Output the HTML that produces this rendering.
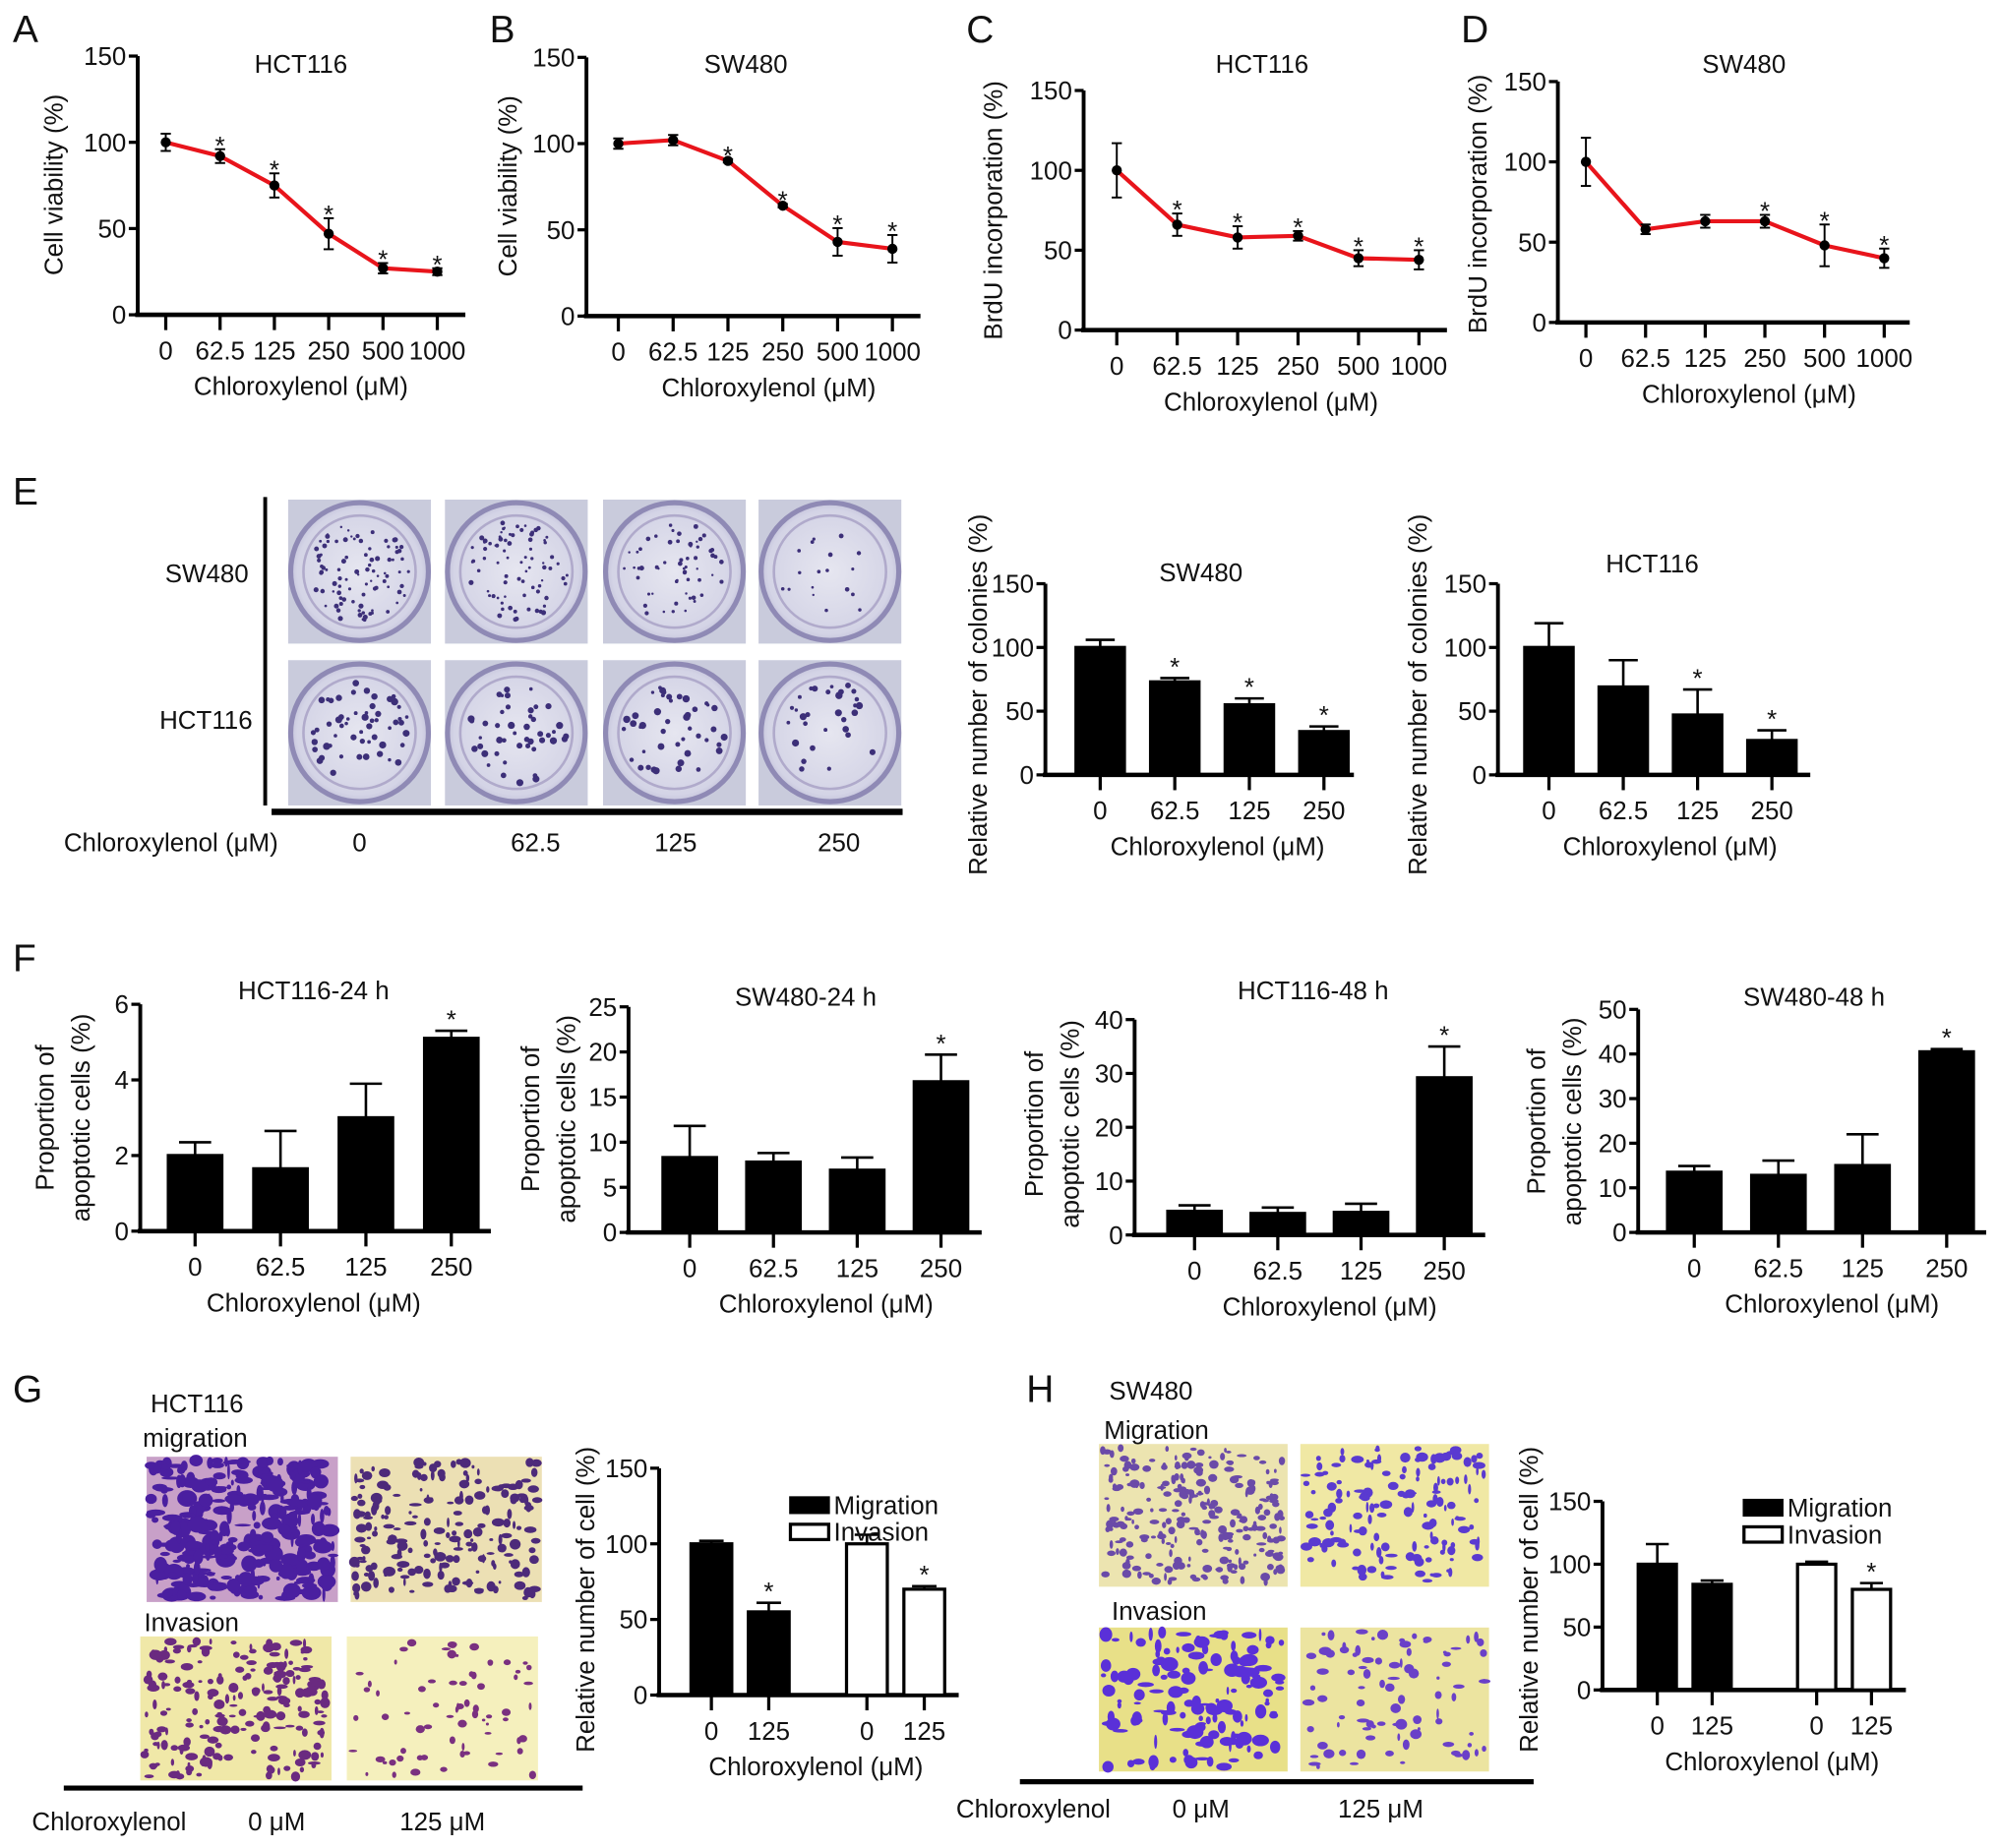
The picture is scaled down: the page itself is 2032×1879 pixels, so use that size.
<!DOCTYPE html>
<html><head><meta charset="utf-8">
<style>
html,body{margin:0;padding:0;background:#fff;}
svg{display:block;}
text{font-family:"Liberation Sans",sans-serif;fill:#111;}
</style></head>
<body>
<svg id="fig" width="2032" height="1879" viewBox="0 0 1568 1450" xmlns="http://www.w3.org/2000/svg">
<defs>
<radialGradient id="plate" cx="50%" cy="50%" r="60%"><stop offset="0%" stop-color="#e6e6f0"/><stop offset="75%" stop-color="#d4d4e6"/><stop offset="100%" stop-color="#a9a6c8"/></radialGradient>
</defs>
</svg>
<script>
// ---------- data ----------
const doseLabels6 = ["0","62.5","125","250","500","1000"];
const doseLabels4 = ["0","62.5","125","250"];
const twoLabels = ["0","125","0","125"];
const aValues = [100,92,75,47,27,25];
const aErrors = [5,4,7,9,3,2];
const aStars = [0,1,1,1,1,1];
const bValues = [100,102,90,64,43,39];
const bErrors = [3,3,1,1,8,8];
const bStars = [0,0,1,1,1,1];
const cValues = [100,66,58,59,45,44];
const cErrors = [17,7,7,3,5,6];
const cStars = [0,1,1,1,1,1];
const dValues = [100,58,63,63,48,40];
const dErrors = [15,3,4,4,13,6];
const dStars = [0,0,0,1,1,1];
const eSwValues = [100,73,55,34];
const eSwErrors = [6,3,5,4];
const eSwStars = [0,1,1,1];
const eHcValues = [100,69,47,27];
const eHcErrors = [19,21,20,8];
const eHcStars = [0,0,1,1];
const f1Values = [2.0,1.65,3.0,5.1];
const f1Errors = [0.35,1.0,0.9,0.2];
const f1Stars = [0,0,0,1];
const f2Values = [8.3,7.8,6.9,16.7];
const f2Errors = [3.5,1.0,1.4,3.0];
const f2Stars = [0,0,0,1];
const f3Values = [4.4,4.0,4.2,29.2];
const f3Errors = [1.1,1.1,1.6,5.8];
const f3Stars = [0,0,0,1];
const f4Values = [13.5,12.8,15.0,40.5];
const f4Errors = [1.4,3.3,7.0,0.6];
const f4Stars = [0,0,0,1];
const gValues = [100,55,100,70];
const gErrors = [2,6,6,2];
const gStars = [0,1,0,1];
const gFill = ["#000","#000","#fff","#fff"];
const hValues = [100,84,100,80];
const hErrors = [16,3,2,5];
const hStars = [0,0,0,1];

// ---------- helpers ----------
const NS = "http://www.w3.org/2000/svg";
const svg = document.getElementById('fig');
function mk(tag, attrs, parent, name, inter){
  const e = document.createElementNS(NS, tag);
  for (const k in attrs) e.setAttribute(k, attrs[k]);
  
  
  (parent || svg).appendChild(e);
  return e;
}
function txt(x,y,s,size,anchor,parent,name,rot){
  const t = document.createElementNS(NS,'text');
  t.setAttribute('x',x); t.setAttribute('y',y);
  t.setAttribute('font-size',size); t.setAttribute('text-anchor',anchor||'middle');
  if (rot) t.setAttribute('transform','rotate(-90 '+x+' '+y+')');
  t.textContent = s;
  
  
  (parent||svg).appendChild(t);
  return t;
}
function group(name){
  const g = document.createElementNS(NS,'g');
  
  
  svg.appendChild(g);
  return g;
}

function axes(g, c, n){
  const yS = v => c.y0 - (v / c.ymax) * (c.y0 - c.yTop);
  const xS = i => c.x0 + i * c.step;
  mk('line',{x1:c.ax,y1:c.yTop,x2:c.ax,y2:c.y0+1,stroke:'#000','stroke-width':3},g,'y-axis-line');
  for (let v = 0; v <= c.ymax + 1e-9; v += c.tick){
    mk('line',{x1:c.ax-7,y1:yS(v),x2:c.ax,y2:yS(v),stroke:'#000','stroke-width':2.5},g,'y-tick');
    txt(c.ax-9, yS(v)+7, String(Math.round(v*10)/10), 20, 'end', g, 'y-tick-label');
  }
  mk('line',{x1:c.ax-2,y1:c.y0,x2:c.xEnd,y2:c.y0,stroke:'#000','stroke-width':3.5},g,'x-axis-line');
  for (let i=0;i<n;i++){
    mk('line',{x1:xS(i),y1:c.y0,x2:xS(i),y2:c.y0+12,stroke:'#000','stroke-width':2.5},g,'x-tick');
    txt(xS(i), c.y0+35, c.labels[i], 20, 'middle', g, 'x-tick-label');
  }
  txt(c.xTitleX, c.y0+63, 'Chloroxylenol (\u03bcM)', 20, 'middle', g, 'x-axis-title');
  if (c.title) txt(c.titleX, c.titleY, c.title, 20, 'middle', g, 'chart-title');
  if (c.ylab2){
    txt(c.ylabX-14, c.ylabY, c.ylab, 20, 'middle', g, 'y-axis-title', true);
    txt(c.ylabX+14, c.ylabY, c.ylab2, 20, 'middle', g, 'y-axis-title-line2', true);
  } else txt(c.ylabX, c.ylabY, c.ylab, 20, 'middle', g, 'y-axis-title', true);
  return {yS, xS};
}

function lineChart(name, c, vals, errs, stars){
  const g = group(name);
  const {yS, xS} = axes(g, c, vals.length);
  const pts = vals.map((v,i)=> xS(i)+','+yS(v)).join(' ');
  mk('polyline',{points:pts,fill:'none',stroke:'#e8141b','stroke-width':3.2},g,'series-line');
  vals.forEach((v,i)=>{
    const x = xS(i), t = yS(v+errs[i]), b = yS(v-errs[i]);
    mk('line',{x1:x,y1:t,x2:x,y2:b,stroke:'#000','stroke-width':1.5},g,'error-bar');
    mk('line',{x1:x-4,y1:t,x2:x+4,y2:t,stroke:'#000','stroke-width':1.5},g,'error-cap');
    mk('line',{x1:x-4,y1:b,x2:x+4,y2:b,stroke:'#000','stroke-width':1.5},g,'error-cap');
    mk('circle',{cx:x,cy:yS(v),r:4,fill:'#000'},g,'data-point');
    if (stars[i]) txt(x, t+4, '*', 20, 'middle', g, 'significance-star');
  });
}

function barChart(name, c, vals, errs, stars, fills){
  const g = group(name);
  const {yS, xS} = axes(g, c, vals.length);
  vals.forEach((v,i)=>{
    const x = xS(i), w = c.bw;
    const f = fills ? fills[i] : '#000';
    const t = yS(v+errs[i]);
    mk('line',{x1:x,y1:t,x2:x,y2:yS(v),stroke:'#000','stroke-width':2},g,'error-bar');
    mk('line',{x1:x-w*0.3,y1:t,x2:x+w*0.3,y2:t,stroke:'#000','stroke-width':2},g,'error-cap');
    mk('rect',{x:x-w/2,y:yS(v),width:w,height:c.y0-yS(v),fill:f,stroke:'#000','stroke-width':2.5},g,'bar');
    if (stars[i]) txt(x, t-2, '*', 20, 'middle', g, 'significance-star');
  });
  return g;
}

[['A',10,33],['B',384,33],['C',758,33],['D',1146,33],['E',10,396],['F',10,762],['G',10,1100],['H',805,1100]].forEach(p=>{
  txt(p[1],p[2],p[0],30,'start',svg,'panel-label-'+p[0].toLowerCase());
});

lineChart('panel-a-chart',{ax:108,yTop:44,y0:247,ymax:150,tick:50,x0:130,step:42.6,xEnd:365,labels:doseLabels6,xTitleX:236,title:'HCT116',titleX:236,titleY:57,ylab:'Cell viability (%)',ylabX:49,ylabY:145},aValues,aErrors,aStars);
lineChart('panel-b-chart',{ax:460,yTop:45,y0:248,ymax:150,tick:50,x0:485,step:43,xEnd:722,labels:doseLabels6,xTitleX:603,title:'SW480',titleX:585,titleY:57,ylab:'Cell viability (%)',ylabX:405,ylabY:146},bValues,bErrors,bStars);
lineChart('panel-c-chart',{ax:850,yTop:71,y0:259,ymax:150,tick:50,x0:876,step:47.4,xEnd:1135,labels:doseLabels6,xTitleX:997,title:'HCT116',titleX:990,titleY:57,ylab:'BrdU incorporation (%)',ylabX:786,ylabY:165},cValues,cErrors,cStars);
lineChart('panel-d-chart',{ax:1222,yTop:64,y0:253,ymax:150,tick:50,x0:1244,step:46.8,xEnd:1498,labels:doseLabels6,xTitleX:1372,title:'SW480',titleX:1368,titleY:57,ylab:'BrdU incorporation (%)',ylabX:1166,ylabY:160},dValues,dErrors,dStars);

let seed = 7;
function rnd(){ seed = (seed*16807) % 2147483647; return (seed-1)/2147483646; }
function platePhoto(x,y,w,h,dots,big,name){
  const g = group(name);
  mk('rect',{x:x,y:y,width:w,height:h,fill:'#c9cbdc'},g,'photo-bg');
  mk('circle',{cx:x+w/2,cy:y+h/2,r:Math.min(w,h)/2-2,fill:'url(#plate)',stroke:'#8f8ab5','stroke-width':4},g,'plate');
  mk('circle',{cx:x+w/2,cy:y+h/2,r:Math.min(w,h)/2-12,fill:'none',stroke:'#b0aacb','stroke-width':2},g,'plate-rim');
  for (let i=0;i<dots;i++){
    const a=rnd()*6.283, r=Math.sqrt(rnd())*(Math.min(w,h)/2-16);
    mk('circle',{cx:x+w/2+r*Math.cos(a),cy:y+h/2+r*Math.sin(a),r:(big?1.3:0.9)+rnd()*(big?1.6:1.1),fill:'#3c2f78'},g,'colony');
  }
}
const cols=[226,349,473,595], rowsY=[392,518];
const swDots=[90,80,60,18], hcDots=[55,45,45,30];
cols.forEach((x,i)=>{ platePhoto(x,rowsY[0],112,113,swDots[i],false,'sw480-colony-photo'); platePhoto(x,rowsY[1],112,114,hcDots[i],true,'hct116-colony-photo'); });
const eg = group('panel-e-photo-labels');
mk('line',{x1:208,y1:390,x2:208,y2:632,stroke:'#000','stroke-width':3},eg,'row-bracket');
mk('line',{x1:213,y1:637,x2:708,y2:637,stroke:'#000','stroke-width':5},eg,'dose-bar');
txt(195,457,'SW480',20,'end',eg,'row-label-sw480');
txt(198,572,'HCT116',20,'end',eg,'row-label-hct116');
txt(50,668,'Chloroxylenol (\u03bcM)',20,'start',eg,'dose-title');
[['0',282],['62.5',420],['125',530],['250',658]].forEach(p=>txt(p[1],668,p[0],20,'middle',eg,'dose-label'));

function wellPhoto(x,y,w,h,bg,color,n,size,name){
  const g = group(name);
  mk('rect',{x:x,y:y,width:w,height:h,fill:bg},g,'photo-bg');
  for (let i=0;i<n;i++){
    mk('ellipse',{cx:x+3+rnd()*(w-6),cy:y+3+rnd()*(h-6),rx:1+rnd()*size,ry:1+rnd()*size*0.8,fill:color},g,'cell');
  }
}
wellPhoto(115,1143,150,114,'#c8a0c8','#4a1fa0',320,7,'hct116-migration-0');
wellPhoto(275,1143,150,114,'#ece0b4','#4d2a7a',200,4,'hct116-migration-125');
wellPhoto(110,1284,150,113,'#f0e8a8','#6a2a80',200,4,'hct116-invasion-0');
wellPhoto(272,1284,150,113,'#f5f0bd','#7a3080',70,3,'hct116-invasion-125');
const gg = group('panel-g-photo-labels');
txt(118,1108,'HCT116',20,'start',gg,'cell-line-label');
txt(112,1135,'migration',20,'start',gg,'migration-label');
txt(113,1280,'Invasion',20,'start',gg,'invasion-label');
mk('line',{x1:50,y1:1403,x2:457,y2:1403,stroke:'#000','stroke-width':4},gg,'dose-bar');
txt(25,1436,'Chloroxylenol',20,'start',gg,'dose-title');
txt(217,1436,'0 \u03bcM',20,'middle',gg,'dose-label');
txt(347,1436,'125 \u03bcM',20,'middle',gg,'dose-label');
wellPhoto(862,1133,148,112,'#ece4b0','#6a4aa8',260,3,'sw480-migration-0');
wellPhoto(1020,1133,148,112,'#f0e8a4','#5a3ad0',150,4,'sw480-migration-125');
wellPhoto(862,1277,148,113,'#e8e088','#5a30d8',140,6,'sw480-invasion-0');
wellPhoto(1020,1277,148,113,'#ece4a0','#6a40c8',90,4,'sw480-invasion-125');
const hg = group('panel-h-photo-labels');
txt(870,1098,'SW480',20,'start',hg,'cell-line-label');
txt(866,1129,'Migration',20,'start',hg,'migration-label');
txt(872,1271,'Invasion',20,'start',hg,'invasion-label');
mk('line',{x1:800,y1:1398,x2:1203,y2:1398,stroke:'#000','stroke-width':4},hg,'dose-bar');
txt(750,1426,'Chloroxylenol',20,'start',hg,'dose-title');
txt(942,1426,'0 \u03bcM',20,'middle',hg,'dose-label');
txt(1083,1426,'125 \u03bcM',20,'middle',hg,'dose-label');

barChart('panel-e-sw480-bars',{ax:820,yTop:458,y0:608,ymax:150,tick:50,x0:863,step:58.5,xEnd:1062,bw:38,labels:doseLabels4,xTitleX:955,title:'SW480',titleX:942,titleY:456,ylab:'Relative number of colonies (%)',ylabX:774,ylabY:545},eSwValues,eSwErrors,eSwStars);
barChart('panel-e-hct116-bars',{ax:1175,yTop:458,y0:608,ymax:150,tick:50,x0:1215,step:58.3,xEnd:1420,bw:38,labels:doseLabels4,xTitleX:1310,title:'HCT116',titleX:1296,titleY:449,ylab:'Relative number of colonies (%)',ylabX:1119,ylabY:545},eHcValues,eHcErrors,eHcStars);

barChart('panel-f-hct116-24h',{ax:110,yTop:788,y0:966,ymax:6,tick:2,x0:153,step:67,xEnd:385,bw:42,labels:doseLabels4,xTitleX:246,title:'HCT116-24 h',titleX:246,titleY:784,ylab:'Proportion of',ylab2:'apoptotic cells (%)',ylabX:56,ylabY:877},f1Values,f1Errors,f1Stars);
barChart('panel-f-sw480-24h',{ax:493,yTop:790,y0:967,ymax:25,tick:5,x0:541,step:65.7,xEnd:770,bw:42,labels:doseLabels4,xTitleX:648,title:'SW480-24 h',titleX:632,titleY:789,ylab:'Proportion of',ylab2:'apoptotic cells (%)',ylabX:437,ylabY:878},f2Values,f2Errors,f2Stars);
barChart('panel-f-hct116-48h',{ax:890,yTop:800,y0:969,ymax:40,tick:10,x0:937,step:65.3,xEnd:1165,bw:42,labels:doseLabels4,xTitleX:1043,title:'HCT116-48 h',titleX:1030,titleY:784,ylab:'Proportion of',ylab2:'apoptotic cells (%)',ylabX:832,ylabY:882},f3Values,f3Errors,f3Stars);
barChart('panel-f-sw480-48h',{ax:1285,yTop:792,y0:967,ymax:50,tick:10,x0:1329,step:66,xEnd:1558,bw:42,labels:doseLabels4,xTitleX:1437,title:'SW480-48 h',titleX:1423,titleY:789,ylab:'Proportion of',ylab2:'apoptotic cells (%)',ylabX:1226,ylabY:880},f4Values,f4Errors,f4Stars);

function legend(g,x,y){
  mk('rect',{x:x,y:y,width:30,height:12,fill:'#000',stroke:'#000','stroke-width':2},g,'legend-swatch-migration');
  txt(x+34,y+13,'Migration',20,'start',g,'legend-entry-migration');
  mk('rect',{x:x,y:y+21,width:30,height:12,fill:'#fff',stroke:'#000','stroke-width':2.5},g,'legend-swatch-invasion');
  txt(x+34,y+34,'Invasion',20,'start',g,'legend-entry-invasion');
}
function drawGrouped(g,c,yS,xS,vals,errs,stars,fills){
  vals.forEach((v,i)=>{
    const x=xS(i), w=c.bw, t=yS(v+errs[i]);
    mk('line',{x1:x,y1:c.y0,x2:x,y2:c.y0+12,stroke:'#000','stroke-width':2.5},g,'x-tick');
    txt(x,c.y0+35,twoLabels[i],20,'middle',g,'x-tick-label');
    mk('line',{x1:x,y1:t,x2:x,y2:yS(v),stroke:'#000','stroke-width':2},g,'error-bar');
    mk('line',{x1:x-w*0.3,y1:t,x2:x+w*0.3,y2:t,stroke:'#000','stroke-width':2},g,'error-cap');
    mk('rect',{x:x-w/2,y:yS(v),width:w,height:c.y0-yS(v),fill:fills[i],stroke:'#000','stroke-width':2.5},g,'bar');
    if (stars[i]) txt(x,t-2,'*',20,'middle',g,'significance-star');
  });
}
const gBars = barChart('panel-g-bars',{ax:517,yTop:1152,y0:1330,ymax:150,tick:50,x0:558,step:0,xEnd:752,bw:32,labels:twoLabels,xTitleX:640,ylab:'Relative number of cell (%)',ylabX:466,ylabY:1255},[],[],[],gFill);
(function(){
  const c={ax:517,yTop:1152,y0:1330,ymax:150,bw:32};
  const yS = v => c.y0 - (v/c.ymax)*(c.y0-c.yTop);
  const xS = i => 558 + i*45 + (i>=2 ? 32 : 0);
  drawGrouped(gBars,c,yS,xS,gValues,gErrors,gStars,gFill);
  legend(gBars,620,1175);
})();
const hBars = barChart('panel-h-bars',{ax:1257,yTop:1178,y0:1326,ymax:150,tick:50,x0:1300,step:0,xEnd:1495,bw:30,labels:twoLabels,xTitleX:1390,ylab:'Relative number of cell (%)',ylabX:1206,ylabY:1255},[],[],[],gFill);
(function(){
  const c={ax:1257,yTop:1178,y0:1326,ymax:150,bw:30};
  const yS = v => c.y0 - (v/c.ymax)*(c.y0-c.yTop);
  const xS = i => 1300 + i*43 + (i>=2 ? 39 : 0);
  drawGrouped(hBars,c,yS,xS,hValues,hErrors,hStars,gFill);
  legend(hBars,1368,1177);
})();
</script>
</body></html>
